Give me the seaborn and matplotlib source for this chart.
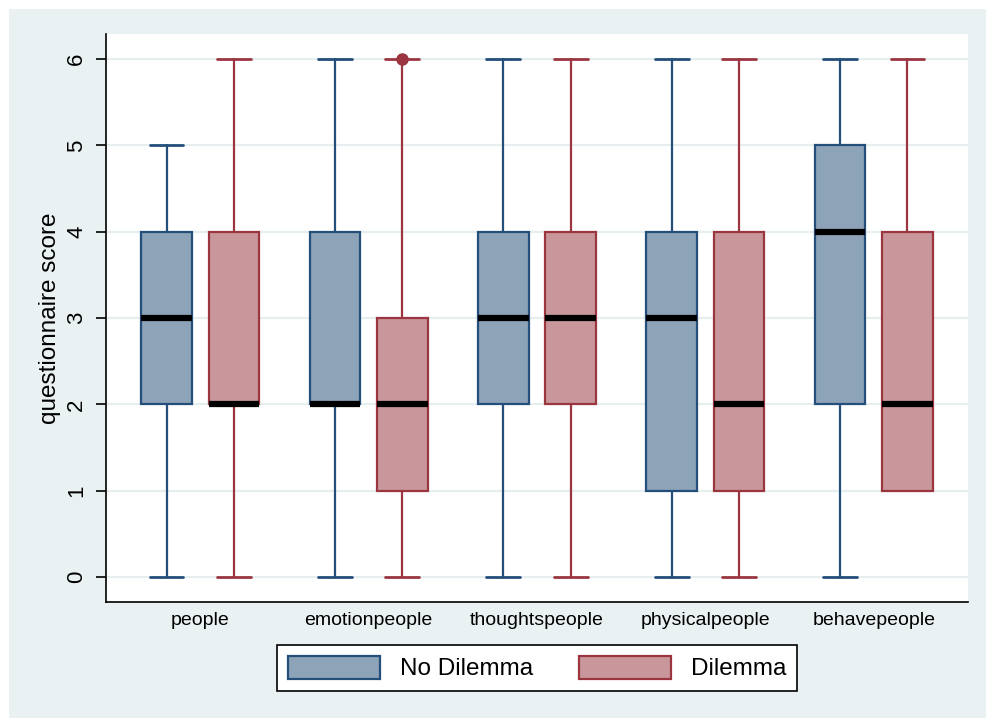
import matplotlib
matplotlib.use("Agg")
import matplotlib.pyplot as plt
import seaborn as sns
from matplotlib.patches import Rectangle, Patch

sns.set_theme(style="white")
plt.rcParams["font.family"] = ["Liberation Sans", "DejaVu Sans"]
plt.rcParams["text.color"] = "black"
plt.rcParams["axes.labelcolor"] = "black"
plt.rcParams["xtick.color"] = "black"
plt.rcParams["ytick.color"] = "black"

# Five-number summaries of questionnaire scores per item and condition
categories = ["people", "emotionpeople", "thoughtspeople", "physicalpeople", "behavepeople"]
groups = ["No Dilemma", "Dilemma"]

nodilemma_whislo = [0, 0, 0, 0, 0]
nodilemma_q1 = [2, 2, 2, 1, 2]
nodilemma_med = [3, 2, 3, 3, 4]
nodilemma_q3 = [4, 4, 4, 4, 5]
nodilemma_whishi = [5, 6, 6, 6, 6]
nodilemma_fliers = [[], [], [], [], []]

dilemma_whislo = [0, 0, 0, 0, 1]
dilemma_q1 = [2, 1, 2, 1, 1]
dilemma_med = [2, 2, 3, 2, 2]
dilemma_q3 = [4, 3, 4, 4, 4]
dilemma_whishi = [6, 6, 6, 6, 6]
dilemma_fliers = [[], [6], [], [], []]

fill_colors = {"No Dilemma": "#8CA3B8", "Dilemma": "#C9979B"}
edge_colors = {"No Dilemma": "#234F7A", "Dilemma": "#9B3641"}

series = {
    "No Dilemma": (nodilemma_whislo, nodilemma_q1, nodilemma_med, nodilemma_q3, nodilemma_whishi, nodilemma_fliers),
    "Dilemma": (dilemma_whislo, dilemma_q1, dilemma_med, dilemma_q3, dilemma_whishi, dilemma_fliers),
}

fig = plt.figure(figsize=(9.87, 7.18), dpi=100, facecolor="white")
# light outer panel behind the plot
fig.add_artist(Rectangle((9 / 987, 0), 1 - 9 / 987, 1 - 9 / 718,
                         transform=fig.transFigure, facecolor="#EAF1F3",
                         edgecolor="none", zorder=-10))

ax = fig.add_axes([106 / 987, 1 - 602 / 718, (968 - 106) / 987, (602 - 34) / 718])
ax.set_zorder(1)
ax.set_facecolor("white")

offsets = {"No Dilemma": -0.2, "Dilemma": 0.2}
box_w = 0.30
for g in groups:
    wl, q1, med, q3, wh, fl = series[g]
    stats = [dict(whislo=wl[i], q1=q1[i], med=med[i], q3=q3[i], whishi=wh[i], fliers=fl[i])
             for i in range(len(categories))]
    pos = [i + offsets[g] for i in range(len(categories))]
    ec = edge_colors[g]
    art = ax.bxp(stats, positions=pos, widths=box_w, patch_artist=True, showfliers=True,
                 boxprops=dict(facecolor=fill_colors[g], edgecolor=ec, linewidth=1.6),
                 whiskerprops=dict(color=ec, linewidth=1.6),
                 capprops=dict(color=ec, linewidth=2.0),
                 capwidths=0.20,
                 medianprops=dict(color="black", linewidth=4.5, solid_capstyle="butt"),
                 flierprops=dict(marker="o", markerfacecolor=ec, markeredgecolor=ec, markersize=8),
                 zorder=3)
    # a cap sitting on the box edge (zero-length whisker) is not drawn
    for i in range(len(categories)):
        if wl[i] == q1[i]:
            art["caps"][2 * i].set_visible(False)
        if wh[i] == q3[i]:
            art["caps"][2 * i + 1].set_visible(False)

ax.set_xlim(-0.56, 4.56)
ax.set_ylim(-0.29, 6.29)
ax.set_xticks(range(len(categories)))
ax.set_xticklabels(categories, fontsize=14)
ax.set_yticks(range(0, 7))
ax.set_yticklabels([str(v) for v in range(0, 7)], fontsize=16, rotation=90, va="center")
ax.tick_params(axis="x", length=0, pad=7)
ax.tick_params(axis="y", length=7.5, width=1.2, color="black", left=True, pad=6)
ax.yaxis.grid(True, color="#E6EEF0", linewidth=1.6, zorder=0)
ax.set_axisbelow(True)
ax.set_ylabel("questionnaire score", fontsize=17.5, labelpad=4)

for s in ["top", "right"]:
    ax.spines[s].set_visible(False)
for s in ["left", "bottom"]:
    ax.spines[s].set_color("black")
    ax.spines[s].set_linewidth(1.2)

handles = [Patch(facecolor=fill_colors[g], edgecolor=edge_colors[g], linewidth=1.6, label=g)
           for g in groups]
leg = fig.legend(handles=handles, loc="center", bbox_to_anchor=(537 / 987, 1 - 668 / 718),
                 ncol=2, fontsize=17.5, frameon=True, fancybox=False, edgecolor="black",
                 framealpha=1, facecolor="white",
                 handlelength=3.8, handleheight=1.1, columnspacing=1.9, borderpad=0.45,
                 handletextpad=0.8)
leg.get_frame().set_linewidth(1.2)

fig.savefig("out.png", dpi=100, facecolor="white")
